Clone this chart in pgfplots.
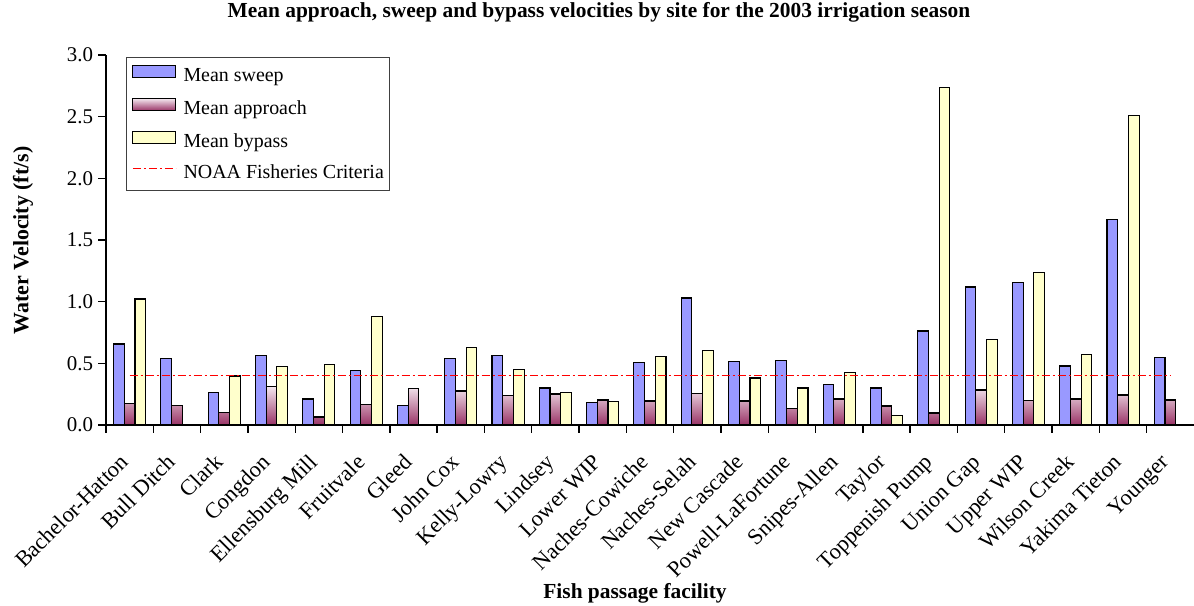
\documentclass[border=0pt]{standalone}
\usepackage{fontspec}
\setmainfont{Liberation Serif}
\usepackage{pgfplots}
\usepackage{pgfplotstable}
\pgfplotsset{compat=1.18}

\definecolor{sweepc}{HTML}{9999FF}
\definecolor{appL}{HTML}{F3E6EE}
\definecolor{appD}{HTML}{993366}
\definecolor{bypc}{HTML}{FFFFCC}

\pgfplotstableread{
x y
0 0.657
1 0.541
2 0.262
3 0.565
4 0.211
5 0.443
6 0.157
7 0.541
8 0.565
9 0.300
10 0.184
11 0.505
12 1.030
13 0.513
14 0.525
15 0.327
16 0.300
17 0.762
18 1.119
19 1.154
20 0.478
21 1.665
22 0.546
}\sweep

\pgfplotstableread{
x y
0 0.176
1 0.160
2 0.105
3 0.310
4 0.065
5 0.168
6 0.294
7 0.276
8 0.238
9 0.251
10 0.203
11 0.195
12 0.259
13 0.195
14 0.135
15 0.211
16 0.154
17 0.097
18 0.284
19 0.197
20 0.211
21 0.243
22 0.203
}\approach

\pgfplotstableread{
x y
0 1.022
2 0.397
3 0.476
4 0.487
5 0.878
7 0.630
8 0.452
9 0.262
10 0.192
11 0.557
12 0.602
13 0.381
14 0.300
15 0.424
16 0.075
17 2.733
18 0.692
19 1.238
20 0.570
21 2.508
}\bypass

\tikzset{critline/.style={red, line width=1.1bp, dash pattern=on 8bp off 3bp on 2bp off 3bp}}

\begin{document}
\begin{tikzpicture}
\begin{axis}[
  at={(0bp,0bp)}, anchor=south west,
  scale only axis,
  width=1088bp, height=370bp,
  xmin=-0.5, xmax=22.5, ymin=0, ymax=3,
  axis x line*=bottom, axis y line*=left,
  axis line style={line width=1.6bp, black},
  tick align=outside,
  major tick length=7.5bp,
  tick style={line width=1.4bp, black},
  xtick={-0.5,0.5,...,21.5},
  xticklabels={},
  extra x ticks={0,1,...,22},
  extra x tick labels={Bachelor-Hatton,Bull Ditch,Clark,Congdon,Ellensburg Mill,Fruitvale,Gleed,John Cox,Kelly-Lowry,Lindsey,Lower WIP,Naches-Cowiche,Naches-Selah,New Cascade,Powell-LaFortune,Snipes-Allen,Taylor,Toppenish Pump,Union Gap,Upper WIP,Wilson Creek,Yakima Tieton,Younger},
  extra x tick style={tick style={draw=none}},
  xticklabel style={anchor=base east, rotate=45, font=\rmfamily\fontsize{22.5}{22.5}\selectfont, inner sep=0pt},
  xticklabel shift=31bp,
  ytick={0,0.5,...,3},
  yticklabel style={font=\rmfamily\fontsize{21}{21}\selectfont, xshift=-2bp, /pgf/number format/fixed, /pgf/number format/fixed zerofill, /pgf/number format/precision=1, /pgf/number format/assume math mode=true},
  ybar=0pt, bar width=10.7bp,
  legend style={at={(axis description cs:0.0184,0.9946)}, anchor=north west,
    draw=black!75, line width=0.8bp, fill=white,
    font=\rmfamily\fontsize{20}{20}\selectfont,
    nodes={inner sep=0pt, text height=14bp, text depth=4.5bp},
    row sep=12.5bp, column sep=7bp, inner xsep=6bp, inner ysep=7.5bp},
  legend cell align=left,
  clip=false,
]
\addplot[ybar, fill=sweepc, draw=black, line width=1.1bp,
  legend image code/.code={\draw[fill=sweepc, draw=black, line width=1bp] (0bp,-1bp) rectangle (43bp,11bp);}]
  table[x=x,y=y] {\sweep};
\addlegendentry{Mean sweep}
\addplot[ybar, top color=appL, bottom color=appD, draw=black, line width=1.1bp,
  legend image code/.code={\draw[top color=appL, bottom color=appD, draw=black, line width=1bp] (0bp,-1bp) rectangle (43bp,11bp);}]
  table[x=x,y=y] {\approach};
\addlegendentry{Mean approach}
\addplot[ybar, fill=bypc, draw=black, line width=1.1bp,
  legend image code/.code={\draw[fill=bypc, draw=black, line width=1bp] (0bp,-1bp) rectangle (43bp,11bp);}]
  table[x=x,y=y] {\bypass};
\addlegendentry{Mean bypass}
\addplot[sharp plot, critline,
  legend image code/.code={\draw[critline] (0bp,5bp) -- (43bp,5bp);}]
  coordinates {(0,0.4) (22,0.4)};
\addlegendentry{NOAA Fisheries Criteria}
\end{axis}
\node[font=\rmfamily\fontsize{21.5}{21.5}\selectfont\bfseries, anchor=base] at (493bp,407.5bp) {Mean approach, sweep and bypass velocities by site for the 2003 irrigation season};
\node[font=\rmfamily\fontsize{21.5}{21.5}\selectfont\bfseries, anchor=base] at (529bp,-173bp) {Fish passage facility};
\node[font=\rmfamily\fontsize{22}{22}\selectfont\bfseries, rotate=90] at (-83bp,184.5bp) {Water Velocity (ft/s)};
\pgfresetboundingbox
\path[use as bounding box] (-106bp,-181bp) rectangle (1088bp,425bp);
\end{tikzpicture}
\end{document}
